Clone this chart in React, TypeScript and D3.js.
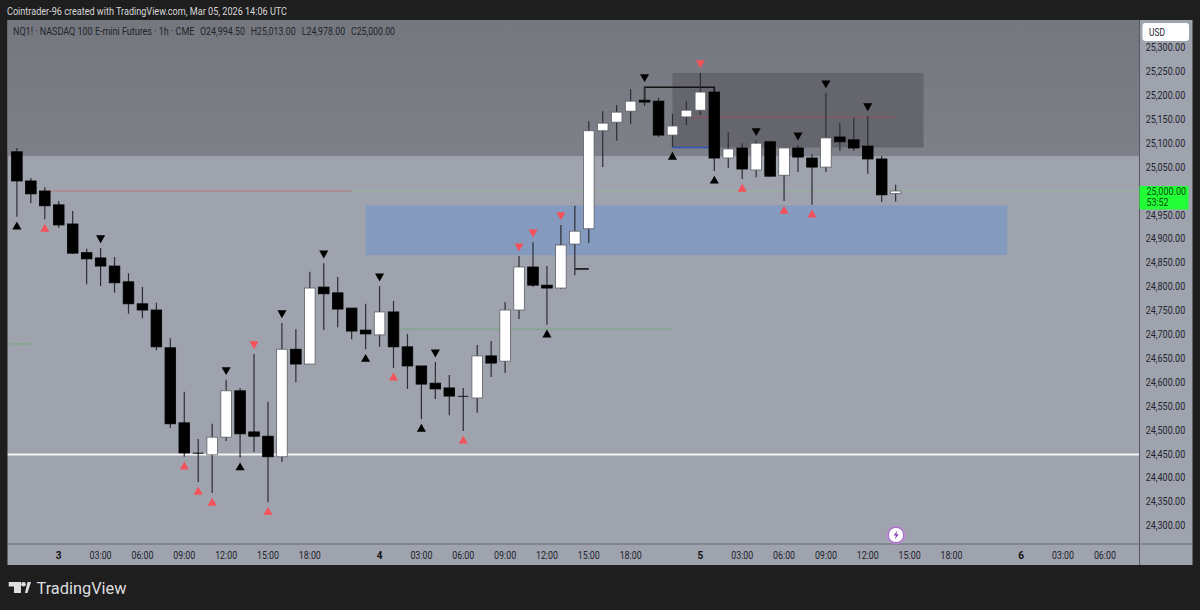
import React from "react";
import * as d3 from "d3";

const highs = [25090,25027,25008,24979,24958,24879,24881,24862,24828,24799,24766,24692,24580,24481,24513,24605,24588,24659,24559,24724,24711,24831,24849,24820,24755,24764,24801,24770,24701,24634,24642,24615,24588,24678,24686,24768,24864,24893,24843,24929,24969,25146,25167,25180,25213,25218,25195,25161,25188,25247,25207,25123,25100,25105,25103,25090,25096,25077,25205,25142,25153,25157,25073,25013];
const lows = [24946,24975,24941,24923,24868,24805,24801,24787,24743,24734,24667,24504,24444,24391,24368,24477,24442,24454,24349,24433,24600,24638,24709,24715,24690,24669,24674,24630,24586,24523,24565,24531,24498,24536,24611,24619,24732,24799,24720,24795,24824,24891,25050,25105,25140,25178,25113,25092,25138,25159,25042,25048,25025,25029,25031,24979,25040,24971,25040,25084,25084,25036,24977,24978];
const opens = [25082,25021,25000,24971,24931,24871,24860,24843,24810,24764,24751,24672,24515,24452,24448,24485,24582,24496,24487,24444,24669,24638,24799,24787,24755,24709,24699,24747,24674,24634,24598,24588,24571,24567,24655,24644,24751,24841,24803,24797,24889,24921,25126,25144,25167,25190,25188,25117,25155,25169,25207,25069,25090,25044,25103,25033,25090,25069,25050,25113,25107,25094,25067,24994.5];
const closes = [25021,24994,24969,24929,24870,24858,24843,24808,24764,24751,24674,24513,24452,24451,24485,24582,24492,24487,24444,24669,24638,24797,24785,24753,24707,24701,24747,24674,24634,24596,24586,24571,24570,24655,24640,24751,24841,24803,24797,24887,24916,25126,25142,25165,25188,25186,25117,25136,25169,25207,25069,25088,25046,25100,25031,25090,25071,25050,25111,25103,25090,25067,24992,25000];

const upBlack = [0,16,25,29,38,47,50];
const upRed = [2,12,13,14,18,27,32,52,55,57];
const downBlack = [6,15,19,22,26,30,45,53,56,58,61];
const downRed = [17,36,37,39,49];

const priceTicks = [25300,25250,25200,25150,25100,25050,24950,24900,24850,24800,24750,24700,24650,24600,24550,24500,24450,24400,24350,24300];
const timeTickIdx = [3,6,9,12,15,18,21,26,29,32,35,38,41,44,49,52,55,58,61,64,67,72,75,78];
const timeTickLabels = ["3","03:00","06:00","09:00","12:00","15:00","18:00","4","03:00","06:00","09:00","12:00","15:00","18:00","5","03:00","06:00","09:00","12:00","15:00","18:00","6","03:00","06:00"];
const dayLabels = ["3","4","5","6"];
const ohlcLabels = ["O24,994.50", "H25,013.00", "L24,978.00", "C25,000.00"];
const ohlcX = [200, 250.7, 301.7, 351];
const ohlcW = [45, 45, 43.5, 44];

const W = 1200, H = 610;
const L = 7.5, R = 1139.5, T = 20, B = 544, RE = 1192.5, BE = 565;
const x = d3.scaleLinear().domain([0, 64]).range([16.9, 909.6]);
const y = d3.scaleLinear().domain([24300, 25300]).range([525.6, 47.6]);
const upTri = d3.symbol().type(d3.symbolTriangle).size(36)() as string;
const FONT = "Roboto, 'Open Sans', sans-serif";
const ink = "#22242c";

export default function App() {
  const n = opens.length;
  return (
    <svg width={W} height={H} viewBox={`0 0 ${W} ${H}`} style={{ position: "fixed", left: 0, top: 0, display: "block" }} fontFamily={FONT}>
      <defs>
        <linearGradient id="top" x1="0" x2="0" y1="0" y2="1">
          <stop offset="0" stopColor="#75777f" />
          <stop offset="1" stopColor="#7e8089" />
        </linearGradient>
        <clipPath id="plot"><rect x={L} y={T} width={R - L} height={B - T} /></clipPath>
      </defs>
      <rect width={W} height={H} fill="#1e1e1e" />
      <text x={7} y={15} fontSize={10.5} fill="#d8d8d8" textLength={280} lengthAdjust="spacingAndGlyphs">Cointrader-96 created with TradingView.com, Mar 05, 2026 14:06 UTC</text>
      <rect x={L} y={T} width={RE - L} height={BE - T} fill="#9fa3ae" />
      <g clipPath="url(#plot)">
        <rect x={L} y={T} width={R - L} height={y(25073) - T} fill="url(#top)" />
        <rect x={x(47)} y={y(25247)} width={x(65) - x(47)} height={y(25091) - y(25247)} fill="#65666d" />
        <rect x={x(25)} y={y(24970)} width={x(71) - x(25)} height={y(24866) - y(24970)} fill="#849abf" />
        <line x1={L} x2={R} y1={y(24449)} y2={y(24449)} stroke="#f4f4f4" strokeWidth={2} />
        <line x1={x(2)} x2={x(24)} y1={y(25000)} y2={y(25000)} stroke="#b87a7a" />
        <line x1={x(24)} x2={R} y1={y(24999)} y2={y(24999)} stroke="#9ab09e" />
        <line x1={x(27.5)} x2={x(47)} y1={y(24711)} y2={y(24711)} stroke="#74a97c" />
        <line x1={10} x2={x(1)} y1={y(24680)} y2={y(24680)} stroke="#74a97c" />
        <line x1={x(48.4)} x2={x(63)} y1={y(25154)} y2={y(25154)} stroke="#95535c" />
        <line x1={x(47)} x2={x(49.6)} y1={y(25091)} y2={y(25091)} stroke="#2a55b5" strokeWidth={1.6} />
        <path d={`M${x(45)} ${y(25190)}V${y(25217)}H${x(50)}V${y(25207)}`} fill="none" stroke="#111" strokeWidth={1.6} />
        <line x1={x(40)} x2={x(41)} y1={y(24837)} y2={y(24837)} stroke="#111" strokeWidth={1.6} />
        {d3.range(n).map((i) => {
          const up = closes[i] >= opens[i];
          const top = y(Math.max(opens[i], closes[i]));
          const bot = y(Math.min(opens[i], closes[i]));
          const cx = x(i);
          const h = bot - top;
          return (
            <g key={i}>
              <line x1={cx} x2={cx} y1={y(highs[i])} y2={y(lows[i])} stroke="#2d2e33" strokeWidth={1.2} />
              <rect x={cx - 5.3} y={top} width={10.6} height={Math.max(h, 0.4)}
                fill={up ? "#ffffff" : "#000000"} stroke={up ? "#5d5f64" : "#000000"} strokeWidth={h < 1.5 ? 0.4 : 0.8} />
            </g>
          );
        })}
        {upBlack.map((i) => <path key={"ub" + i} d={upTri} transform={`translate(${x(i)},${y(lows[i]) + 10})`} fill="#000" />)}
        {upRed.map((i) => <path key={"ur" + i} d={upTri} transform={`translate(${x(i)},${y(lows[i]) + 10})`} fill="#f4525a" />)}
        {downBlack.map((i) => <path key={"db" + i} d={upTri} transform={`translate(${x(i)},${y(highs[i]) - 10}) rotate(180)`} fill="#000" />)}
        {downRed.map((i) => <path key={"dr" + i} d={upTri} transform={`translate(${x(i)},${y(highs[i]) - 10}) rotate(180)`} fill="#f4525a" />)}
      </g>
      <text transform="translate(13,35) scale(0.9,1)" fontSize={10} fill={ink}>NQ1! · NASDAQ 100 E-mini Futures · 1h · CME</text>
      {ohlcLabels.map((t, k) => (
        <text key={t} x={ohlcX[k]} y={35} fontSize={10} fill={ink} textLength={ohlcW[k]} lengthAdjust="spacingAndGlyphs">{t}</text>
      ))}

      <line x1={R} x2={R} y1={T} y2={BE} stroke="#55585f" />
      <line x1={L} x2={RE} y1={B} y2={B} stroke="#666a73" strokeWidth={1} />

      {priceTicks.map((p) => (
        <text key={p} x={1145.7} y={y(p) + 3.6} fontSize={10} fill={ink} textLength={39.5} lengthAdjust="spacingAndGlyphs">{d3.format(",.2f")(p)}</text>
      ))}
      <rect x={R} y={186} width={49} height={23.5} fill="#22ff36" />
      <text x={1146.5} y={195} fontSize={10} fill="#0e4a12" textLength={39.5} lengthAdjust="spacingAndGlyphs">25,000.00</text>
      <text x={1146.5} y={206} fontSize={10} fill="#0e4a12" textLength={22} lengthAdjust="spacingAndGlyphs">53:52</text>
      <rect x={1142.5} y={23} width={46.5} height={18} rx={3} fill="#ffffff" />
      <text x={1149} y={36} fontSize={10} fill={ink} textLength={16} lengthAdjust="spacingAndGlyphs">USD</text>

      {timeTickIdx.map((i, k) => {
        const t = timeTickLabels[k];
        const day = dayLabels.includes(t);
        return (
          <text key={i} x={x(i) - (day ? 0 : 11)} y={558.5} fontSize={10} textAnchor={day ? "middle" : "start"} fontWeight={day ? 700 : 400} fill={day ? "#111" : ink}
            {...(day ? {} : { textLength: 22, lengthAdjust: "spacingAndGlyphs" })}>{t}</text>
        );
      })}

      <circle cx={896} cy={535} r={9} fill="none" stroke="#c77fdd" strokeWidth={1} />
      <circle cx={896} cy={535} r={7.6} fill="#fff" stroke="#9a4fc0" strokeWidth={0.8} />
      <path d="M897.5 530.5 L893.5 535.5 H896 L894.8 539.5 L898.8 534.2 H896.3 Z" fill="#8a3db0" />

      <g fill="#dedede">
        <path d="M8.7 582H21V593H14V586.5H8.7Z" />
        <circle cx={23.5} cy={584.3} r={2.3} />
        <path d="M25 593L27.5 582H31L27.5 593Z" />
      </g>
      <text x={36.5} y={594} fontSize={16.3} fontWeight={400} fill="#dedede" textLength={90} lengthAdjust="spacingAndGlyphs">TradingView</text>
    </svg>
  );
}
